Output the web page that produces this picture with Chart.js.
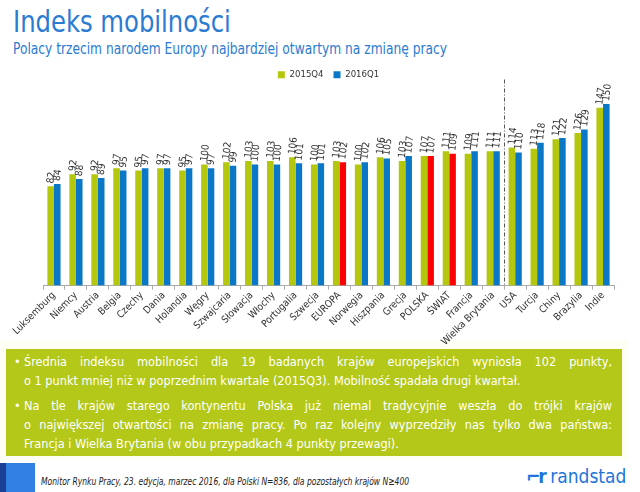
<!DOCTYPE html>
<html>
<head>
<meta charset="utf-8">
<script src="https://cdn.jsdelivr.net/npm/chart.js@4.4.0/dist/chart.umd.min.js"></script>
<style>
  body { margin: 0; width: 640px; height: 492px; background: #fff; position: relative; overflow: hidden;
         font-family: "DejaVu Sans Condensed", "DejaVu Sans", sans-serif; }
  h1 { position: absolute; left: 13px; top: 4px; margin: 0; font-weight: normal; font-size: 30px; color: #2b7bd2;
       transform: scaleX(0.9); transform-origin: left top; white-space: nowrap; }
  h2 { position: absolute; left: 13px; top: 39px; margin: 0; font-weight: normal; font-size: 16.5px; color: #2b7bd2;
       transform: scaleX(0.825); transform-origin: left top; white-space: nowrap; }
  #chartBox { position: absolute; left: 0; top: 60px; width: 640px; height: 288px; }
  #cream { position: absolute; left: 0; top: 340px; width: 628px; height: 120px; background: #fffef5; }
  #note { position: absolute; left: 6px; top: 349px; width: 616px; height: 107px; background: #b4c81a; color: #fff;
          font-size: 12.6px; line-height: 19px; box-sizing: border-box; padding: 3px 10px 0 18px; }
  #note .p { margin: 0 0 6px 0; position: relative; }
  #note .p::before { content: "•"; position: absolute; left: -10px; top: 0; }
  #note .l { text-align: justify; text-align-last: justify; white-space: nowrap; }
  #note .l.last { text-align-last: left; }
  #footL1 { position: absolute; left: 0; top: 463px; width: 6px; height: 29px; background: #1b3f94; }
  #footL2 { position: absolute; left: 6px; top: 463px; width: 29px; height: 29px; background: #2f80e0; }
  #source { position: absolute; left: 41px; top: 475px; font-size: 11px; font-style: italic; color: #222;
            transform: scaleX(0.77); transform-origin: left top; white-space: nowrap; }
  #logo { position: absolute; left: 526px; top: 465px; font-size: 19px; color: #2175d9; }
</style>
</head>
<body>
<h1>Indeks mobilności</h1>
<h2>Polacy trzecim narodem Europy najbardziej otwartym na zmianę pracy</h2>
<div id="cream"></div>
<div id="chartBox"><canvas id="chart"></canvas></div>
<div id="note">
  <div class="p">
    <div class="l">Średnia indeksu mobilności dla 19 badanych krajów europejskich wyniosła 102 punkty,</div>
    <div class="l last">o 1 punkt mniej niż w poprzednim kwartale (2015Q3). Mobilność spadała drugi kwartał.</div>
  </div>
  <div class="p">
    <div class="l">Na tle krajów starego kontynentu Polska już niemal tradycyjnie weszła do trójki krajów</div>
    <div class="l">o największej otwartości na zmianę pracy. Po raz kolejny wyprzedziły nas tylko dwa państwa:</div>
    <div class="l last">Francja i Wielka Brytania (w obu przypadkach 4 punkty przewagi).</div>
  </div>
</div>
<div id="footL1"></div><div id="footL2"></div>
<div id="source">Monitor Rynku Pracy, 23. edycja, marzec 2016, dla Polski N=836, dla pozostałych krajów N≥400</div>
<div id="logo"><span style="font-weight:bold;letter-spacing:-2px">⌐r</span> randstad</div>

<script>
// categories and values
const countries = ["Luksemburg", "Niemcy", "Austria", "Belgia", "Czechy", "Dania", "Holandia", "Węgry",
    "Szwajcaria", "Słowacja", "Włochy", "Portugalia", "Szwecja", "EUROPA", "Norwegia", "Hiszpania",
    "Grecja", "POLSKA", "ŚWIAT", "Francja", "Wielka Brytania", "USA", "Turcja", "Chiny", "Brazylia", "Indie"];
const q4_2015 = [82, 92, 92, 97, 95, 97, 95, 100, 102, 103, 103, 106, 100, 103, 100, 106, 103, 107, 111, 109, 111, 114, 113, 121, 126, 147];
const q1_2016 = [84, 88, 89, 95, 97, 97, 97, 97, 99, 100, 100, 101, 101, 102, 102, 105, 107, 107, 109, 111, 111, 110, 118, 122, 129, 150];
const highlighted = ["EUROPA", "POLSKA", "ŚWIAT"];
const lastEuropean = "Wielka Brytania";

const GREEN = "#b4c60e";
const BLUE = "#0a78c6";
const RED = "#ff0000";
const FONT = "'DejaVu Sans Condensed', 'DejaVu Sans', sans-serif";

// vertical value labels above each bar
const valueLabels = {
    id: "valueLabels",
    afterDatasetsDraw(chart) {
        const ctx = chart.ctx;
        ctx.save();
        ctx.font = "10px " + FONT;
        ctx.fillStyle = "#333";
        ctx.textAlign = "left";
        ctx.textBaseline = "middle";
        chart.data.datasets.forEach((ds, i) => {
            chart.getDatasetMeta(i).data.forEach((bar, j) => {
                ctx.save();
                ctx.translate(bar.x, bar.y - 3);
                ctx.rotate(-Math.PI / 2 + 0.12);
                ctx.fillText(String(ds.data[j]), 0, 0);
                ctx.restore();
            });
        });
        ctx.restore();
    }
};

// dash-dot separator between Europe and the rest of the world
const separator = {
    id: "separator",
    afterDatasetsDraw(chart) {
        const x = chart.scales.x;
        const idx = countries.indexOf(lastEuropean);
        const px = (x.getPixelForValue(idx) + x.getPixelForValue(idx + 1)) / 2;
        const ctx = chart.ctx;
        ctx.save();
        ctx.strokeStyle = "#555";
        ctx.lineWidth = 1;
        ctx.setLineDash([4, 2, 1, 2]);
        ctx.beginPath();
        ctx.moveTo(Math.round(px) + 0.5, chart.chartArea.top - 10);
        ctx.lineTo(Math.round(px) + 0.5, chart.chartArea.bottom);
        ctx.stroke();
        ctx.restore();
    }
};

new Chart(document.getElementById("chart"), {
    type: "bar",
    data: {
        labels: countries,
        datasets: [
            { label: "2015Q4", data: q4_2015, backgroundColor: GREEN },
            {
                label: "2016Q1",
                data: q1_2016,
                backgroundColor: (c) => (c.dataIndex !== undefined && highlighted.includes(countries[c.dataIndex])) ? RED : BLUE
            }
        ]
    },
    options: {
        responsive: true,
        maintainAspectRatio: false,
        animation: false,
        categoryPercentage: 0.6,
        barPercentage: 1.0,
        layout: { padding: { left: 43, right: 26, top: 0, bottom: 0 } },
        plugins: {
            legend: {
                position: "top",
                labels: { boxWidth: 7, boxHeight: 7, color: "#333", padding: 10, font: { size: 9.5, family: FONT } }
            },
            tooltip: { enabled: false }
        },
        scales: {
            x: {
                grid: { display: true, drawOnChartArea: false, drawTicks: true, tickLength: 4, color: "#aaa" },
                border: { display: true, color: "#aaa" },
                ticks: { minRotation: 45, maxRotation: 45, color: "#333", font: { size: 10, family: FONT }, padding: 0 }
            },
            y: {
                display: false,
                min: 0,
                max: 162
            }
        }
    },
    plugins: [valueLabels, separator]
});
</script>
</body>
</html>
